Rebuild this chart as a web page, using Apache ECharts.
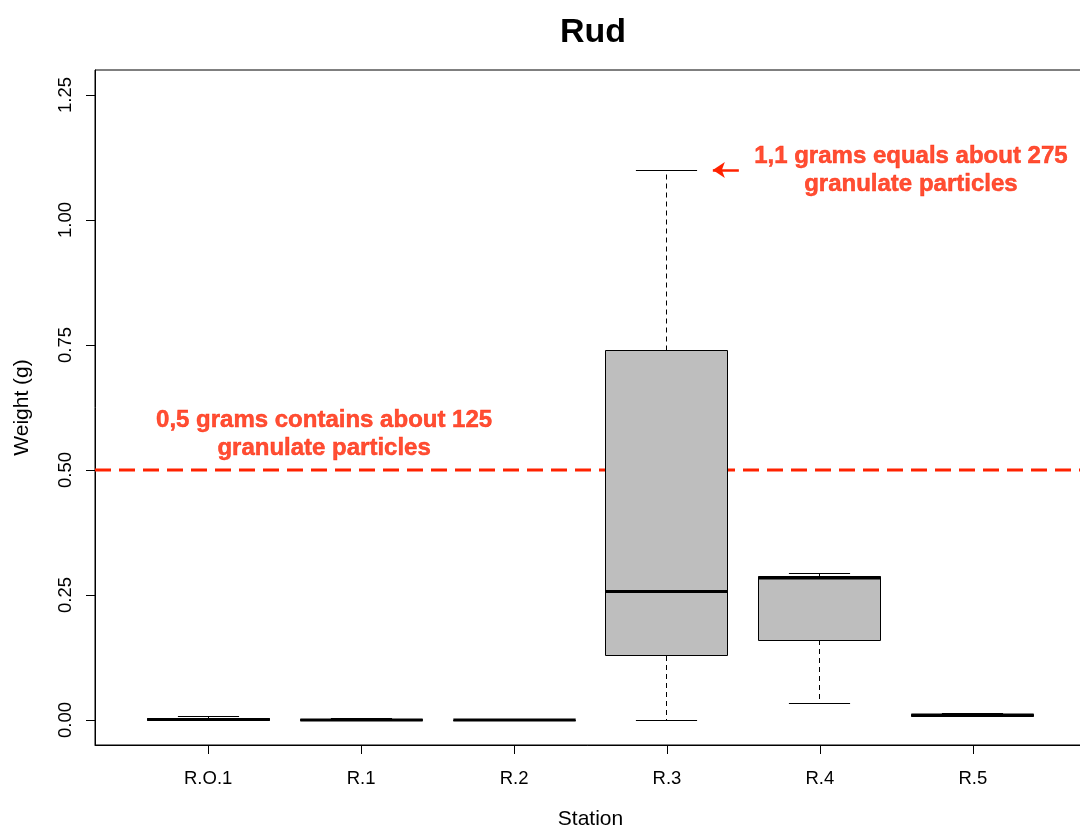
<!DOCTYPE html>
<html>
<head>
<meta charset="utf-8">
<script src="https://cdn.jsdelivr.net/npm/echarts@6/dist/echarts.min.js"></script>
<style>
html,body{margin:0;padding:0;background:#fff;overflow:hidden;}
#chart{width:1080px;height:827px;}
</style>
</head>
<body>
<div id="chart"></div>
<script>
const categories = ['R.O.1', 'R.1', 'R.2', 'R.3', 'R.4', 'R.5'];
const mins    = [0.000, 0.000, 0.000, 0.000, 0.034, 0.007];
const q1s     = [0.000, 0.000, 0.000, 0.128, 0.160, 0.008];
const medians = [0.001, 0.000, 0.000, 0.257, 0.284, 0.010];
const q3s     = [0.004, 0.002, 0.000, 0.739, 0.288, 0.011];
const maxs    = [0.007, 0.003, 0.000, 1.100, 0.293, 0.014];
const yTicks  = [0, 0.25, 0.5, 0.75, 1.0, 1.25];
const refLine = 0.5;
const note1 = '0,5 grams contains about 125\ngranulate particles';
const note2 = '1,1 grams equals about 275\ngranulate particles';

const RED = '#ff2200';
const FONT = '"Liberation Sans", Arial, Helvetica, sans-serif';

const boxData = categories.map((c, i) => [i + 1, mins[i], q1s[i], medians[i], q3s[i], maxs[i]]);

function crisp(v) { return Math.round(v - 0.5) + 0.5; }

function renderBox(params, api) {
  const x = api.value(0);
  const pMin = api.coord([x, api.value(1)]);
  const pQ1 = api.coord([x, api.value(2)]);
  const pMed = api.coord([x, api.value(3)]);
  const pQ3 = api.coord([x, api.value(4)]);
  const pMax = api.coord([x, api.value(5)]);
  const half = api.size([0.8, 0])[0] / 2;
  const capHalf = api.size([0.4, 0])[0] / 2;
  const cx = crisp(pMed[0]);
  const yMin = crisp(pMin[1]), yMax = crisp(pMax[1]);
  const dash = { stroke: '#000', lineWidth: 1, lineDash: [5, 4] };
  const solid = { stroke: '#000', lineWidth: 1 };
  return {
    type: 'group',
    children: [
      { type: 'line', shape: { x1: cx, y1: pQ1[1], x2: cx, y2: yMin }, style: dash },
      { type: 'line', shape: { x1: cx, y1: pQ3[1], x2: cx, y2: yMax }, style: dash },
      { type: 'line', shape: { x1: cx - capHalf, y1: yMin, x2: cx + capHalf, y2: yMin }, style: solid },
      { type: 'line', shape: { x1: cx - capHalf, y1: yMax, x2: cx + capHalf, y2: yMax }, style: solid },
      { type: 'rect', shape: { x: crisp(cx - half), y: crisp(pQ3[1]), width: Math.round(half * 2), height: Math.max(Math.round(pQ1[1] - pQ3[1]), 0) },
        style: { fill: '#bebebe', stroke: '#000', lineWidth: 1 } },
      { type: 'line', shape: { x1: cx - half, y1: pMed[1], x2: cx + half, y2: pMed[1] }, style: { stroke: '#000', lineWidth: 3 } }
    ]
  };
}

const chart = echarts.init(document.getElementById('chart'));
chart.setOption({
  animation: false,
  backgroundColor: '#fff',
  title: {
    text: 'Rud', left: 588, top: 11, textAlign: 'center',
    textStyle: { fontFamily: FONT, fontSize: 34, fontWeight: 'bold', color: '#000' }
  },
  grid: { left: 95, top: 70, right: -6, bottom: 82, outerBoundsMode: 'none', containLabel: false,
    show: true, borderColor: '#000', borderWidth: 1, backgroundColor: 'transparent' },
  xAxis: {
    type: 'value', min: 0.26, max: 6.74,
    name: 'Station', nameLocation: 'middle', nameGap: 64,
    nameTextStyle: { fontFamily: FONT, fontSize: 21, color: '#000' },
    axisLine: { show: true, onZero: false, lineStyle: { color: '#000', width: 1 } },
    axisTick: { show: true, length: 9, lineStyle: { color: '#000' }, customValues: [1, 2, 3, 4, 5, 6] },
    axisLabel: { fontFamily: FONT, fontSize: 18.5, color: '#000', margin: 24,
      customValues: [1, 2, 3, 4, 5, 6], formatter: v => categories[Math.round(v) - 1] },
    splitLine: { show: false }
  },
  yAxis: {
    type: 'value', min: -0.05, max: 1.3,
    name: 'Weight (g)', nameLocation: 'middle', nameGap: 62, nameRotate: 90,
    nameTextStyle: { fontFamily: FONT, fontSize: 21, color: '#000' },
    axisLine: { show: true, onZero: false, lineStyle: { color: '#000', width: 1 } },
    axisTick: { show: true, length: 9, lineStyle: { color: '#000' }, customValues: yTicks },
    axisLabel: { fontFamily: FONT, fontSize: 18.5, color: '#000', rotate: 90, margin: 20,
      customValues: yTicks, formatter: v => v.toFixed(2) },
    splitLine: { show: false }
  },
  series: [
    {
      type: 'line',
      data: [[0.26, refLine], [6.74, refLine]],
      symbol: 'none',
      lineStyle: { color: RED, width: 3, type: [16, 8] },
      z: 1
    },
    {
      type: 'custom',
      renderItem: renderBox,
      data: boxData,
      encode: { x: 0, y: [1, 2, 3, 4, 5] },
      z: 2
    },
    {
      type: 'scatter',
      symbolSize: 0,
      data: [
        { value: [1.758, 0.572], label: { formatter: note1 } },
        { value: [5.595, 1.1], label: { formatter: note2 } }
      ],
      label: {
        show: true, position: 'inside', fontFamily: FONT, fontSize: 24, fontWeight: 'bold',
        color: RED, textBorderColor: RED, textBorderWidth: 0.5, lineHeight: 28, align: 'center', verticalAlign: 'middle'
      },
      markLine: {
        silent: true,
        symbol: ['none', 'arrow'],
        symbolSize: [12, 12],
        label: { show: false },
        lineStyle: { color: RED, width: 2.5, type: 'solid' },
        data: [[{ coord: [4.47, 1.1] }, { coord: [4.30, 1.1] }]]
      },
      z: 3
    }
  ]
});
</script>
</body>
</html>
